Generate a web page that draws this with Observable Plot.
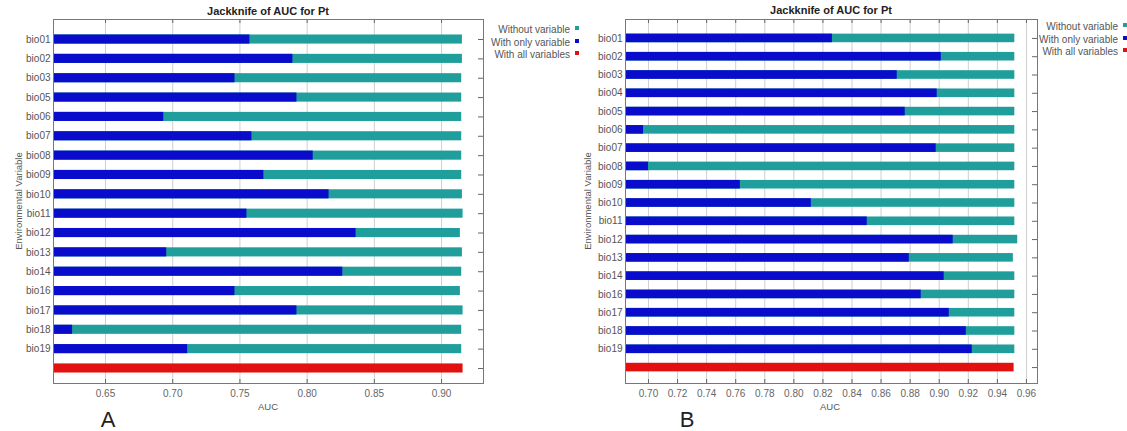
<!DOCTYPE html>
<html>
<head>
<meta charset="utf-8">
<script src="https://cdn.jsdelivr.net/npm/d3@7"></script>
<script src="https://cdn.jsdelivr.net/npm/@observablehq/plot@0.6"></script>
<style>
  html, body { margin: 0; padding: 0; background: #fff; }
  #root { position: relative; width: 1127px; height: 431px; overflow: hidden; background: #fff;
          font-family: "Liberation Sans", Arial, sans-serif; }
  .panel { position: absolute; top: 0; }
  .title { position: absolute; font-weight: bold; font-size: 11px; color: #222; transform: translateX(-50%); white-space: nowrap; }
  .ylab { position: absolute; font-size: 9.5px; color: #555; transform: translate(-50%, -50%) rotate(-90deg); white-space: nowrap; }
  .xlab { position: absolute; font-size: 9.5px; color: #555; transform: translateX(-50%); }
  .letter { position: absolute; font-size: 22px; color: #222; transform: translateX(-50%); }
  .legend { position: absolute; font-size: 10px; color: #555; text-align: right; line-height: 12.5px; }
  .legend .sw { display: inline-block; width: 4px; height: 4px; margin-left: 5px; vertical-align: middle; position: relative; top: -2px; }
</style>
</head>
<body>
<div id="root"></div>
<script>
// ---------- Data ----------
const titleText = "Jackknife of AUC for Pt";
const seriesNames = ["Without variable", "With only variable", "With all variables"];
const seriesColors = ["#1f9e9c", "#0a0ccc", "#e2100f"];

// Panel A
const variablesA = ["bio01","bio02","bio03","bio05","bio06","bio07","bio08","bio09","bio10",
                    "bio11","bio12","bio13","bio14","bio16","bio17","bio18","bio19"];
const withoutA = [0.9155,0.9155,0.915,0.915,0.915,0.915,0.915,0.915,0.9155,
                  0.916,0.914,0.9155,0.915,0.914,0.916,0.915,0.915];
const onlyA    = [0.7574,0.7894,0.7463,0.7924,0.6933,0.7589,0.8045,0.7678,0.8163,
                  0.7552,0.8364,0.6955,0.8265,0.7463,0.7924,0.6255,0.7111];
const allA = 0.916;
const ticksA = [0.65,0.70,0.75,0.80,0.85,0.90];
const domainA = [0.6113, 0.9312];

// Panel B
const variablesB = ["bio01","bio02","bio03","bio04","bio05","bio06","bio07","bio08","bio09","bio10",
                    "bio11","bio12","bio13","bio14","bio16","bio17","bio18","bio19"];
const withoutB = [0.952,0.952,0.952,0.952,0.952,0.952,0.952,0.952,0.952,0.952,
                  0.952,0.954,0.951,0.952,0.952,0.952,0.952,0.952];
const onlyB    = [0.8265,0.9014,0.8711,0.8986,0.8766,0.6966,0.8979,0.7000,0.7632,0.8120,
                  0.8505,0.9096,0.8794,0.9034,0.8876,0.9069,0.9186,0.9227];
const allB = 0.9515;
const ticksB = [0.70,0.72,0.74,0.76,0.78,0.80,0.82,0.84,0.86,0.88,0.90,0.92,0.94,0.96];
const domainB = [0.6842, 0.9676];

const ALL_KEY = "__all__";

function makePanel({variables, without, only, all, ticks, domain, width, marginLeft, marginRight, yRange}) {
  const rowsWithout = variables.map((v, i) => ({variable: v, value: without[i]}));
  const rowsOnly = variables.map((v, i) => ({variable: v, value: only[i]}));
  const rowsAll = [{variable: ALL_KEY, value: all}];
  const yDomain = [...variables, ALL_KEY];
  return Plot.plot({
    width, height: 431,
    marginLeft, marginRight, marginTop: 19, marginBottom: 48,
    style: {fontFamily: '"Liberation Sans", Arial, sans-serif', fontSize: "10px", color: "#555", background: "#fff"},
    x: {domain, label: null},
    y: {domain: yDomain, range: yRange, round: false, paddingInner: 0.53, paddingOuter: 0.8, label: null},
    marks: [
      Plot.gridX(ticks, {stroke: "#cfcfcf", strokeOpacity: 1}),
      Plot.barX(rowsWithout, {x: "value", y: "variable", fill: seriesColors[0], clip: true}),
      Plot.barX(rowsOnly, {x: "value", y: "variable", fill: seriesColors[1], clip: true}),
      Plot.barX(rowsAll, {x: "value", y: "variable", fill: seriesColors[2], clip: true}),
      Plot.axisX(ticks, {anchor: "bottom", tickSize: 0, tickPadding: 6, tickFormat: d3.format(".2f"), label: null, fill: "#666"}),
      Plot.tickX(ticks, {x: d => d, stroke: "#666", insetBottom: 360}),
      Plot.tickX(ticks, {x: d => d, stroke: "#666", insetTop: 360}),
      Plot.axisY({anchor: "left", tickSize: 0, tickPadding: 3, label: null, fill: "#555",
                  tickFormat: d => d === ALL_KEY ? "" : d}),
      Plot.tickY(yDomain, {y: d => d, stroke: "#666", insetLeft: width - marginLeft - marginRight - 5}),
      Plot.frame({stroke: "#777"})
    ]
  });
}

const root = document.getElementById("root");

function addDiv(cls, text, styleObj) {
  const d = document.createElement("div");
  d.className = cls;
  if (text != null) d.textContent = text;
  Object.assign(d.style, styleObj);
  root.appendChild(d);
  return d;
}

function addLegend(rightX, topY) {
  const lg = addDiv("legend", null, {right: (1127 - rightX) + "px", top: topY + "px"});
  seriesNames.forEach((name, i) => {
    const row = document.createElement("div");
    row.textContent = name;
    const sw = document.createElement("span");
    sw.className = "sw";
    sw.style.background = seriesColors[i];
    row.appendChild(sw);
    lg.appendChild(row);
  });
}

// Panel A
const pA = makePanel({variables: variablesA, without: withoutA, only: onlyA, all: allA,
  ticks: ticksA, domain: domainA, width: 490, marginLeft: 53, marginRight: 7, yRange: [19, 388]});
pA.classList.add("panel");
pA.style.left = "0px";
root.appendChild(pA);

// Panel B
const pB = makePanel({variables: variablesB, without: withoutB, only: onlyB, all: allB,
  ticks: ticksB, domain: domainB, width: 480, marginLeft: 55, marginRight: 13, yRange: [19, 386]});
pB.classList.add("panel");
pB.style.left = "570px";
root.appendChild(pB);

// Titles and labels
addDiv("title", titleText, {left: "268px", top: "5px"});
addDiv("title", titleText, {left: "831px", top: "4px"});
addDiv("ylab", "Environmental Variable", {left: "18px", top: "201px"});
addDiv("ylab", "Environmental Variable", {left: "587px", top: "201px"});
addDiv("xlab", "AUC", {left: "268px", top: "401px"});
addDiv("xlab", "AUC", {left: "830px", top: "401px"});
addDiv("letter", "A", {left: "108px", top: "407px"});
addDiv("letter", "B", {left: "687px", top: "407px"});
addLegend(579, 24);
addLegend(1127, 21);
</script>
</body>
</html>
